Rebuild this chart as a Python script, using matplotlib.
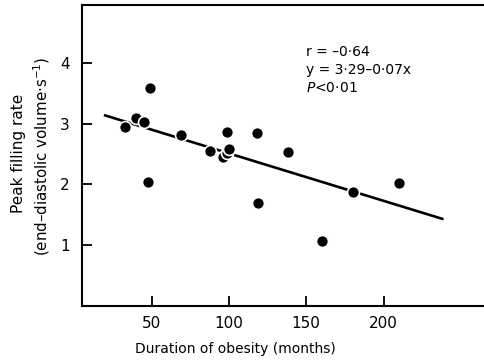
import matplotlib
matplotlib.use("Agg")
import matplotlib.pyplot as plt
import numpy as np

# Data
duration = [33, 40, 45, 49, 48, 69, 88, 96, 99, 100, 99, 118, 119, 138, 160, 180, 210]
pfr      = [2.94, 3.09, 3.03, 3.59, 2.04, 2.82, 2.55, 2.45, 2.52, 2.58, 2.86, 2.84, 1.70, 2.54, 1.07, 1.88, 2.03]
fit_intercept = 3.29
fit_slope = -0.0078
fit_x = [20, 238]
x_ticks = [50, 100, 150, 200]
y_ticks = [1, 2, 3, 4]

plt.rcParams['font.family'] = ['DejaVu Sans']
W, H = 484, 360
fig = plt.figure(figsize=(4.84, 3.6), dpi=100)
ax = fig.add_axes([82/W, 1 - 306/H, 1 - 82/W, (306 - 5)/H])

fx = np.array(fit_x, dtype=float)
ax.plot(fx, fit_intercept + fit_slope * fx, color='black', lw=1.9, zorder=2)
ax.plot(duration, pfr, 'o', color='black', markersize=8.6,
        markeredgecolor='white', markeredgewidth=1.2, zorder=3, clip_on=False)

ax.set_xlim(5, 265)
ax.set_ylim(0, 4.95)
ax.set_xticks(x_ticks)
ax.set_yticks(y_ticks)
ax.tick_params(direction='in', length=7, width=1.3, labelsize=11, pad=7, colors='black')
ax.tick_params(axis='y', pad=9)
for s in ['left', 'bottom', 'top']:
    ax.spines[s].set_linewidth(1.5)
ax.spines['right'].set_visible(False)

fig.text(235/W, 1 - 349/H, 'Duration of obesity (months)', fontsize=10,
         ha='center', va='center')
fig.text(19/W, 1 - 153/H, 'Peak filling rate', fontsize=11, rotation=90,
         ha='center', va='center')
fig.text(42/W, 1 - 156/H, '(end–diastolic volume·s$^{-1}$)', fontsize=10.8, rotation=90,
         ha='center', va='center')

tx = (306 - 82) / (W - 82)
ax.text(tx, 1 - (52 - 5) / 301, 'r = –0·64', transform=ax.transAxes, fontsize=10, va='center')
ax.text(tx, 1 - (70 - 5) / 301, 'y = 3·29–0·07x', transform=ax.transAxes, fontsize=10, va='center')
ax.text(tx, 1 - (88 - 5) / 301, '$\\it{P}$<0·01', transform=ax.transAxes, fontsize=10, va='center')

fig.savefig('out.png', dpi=100)
